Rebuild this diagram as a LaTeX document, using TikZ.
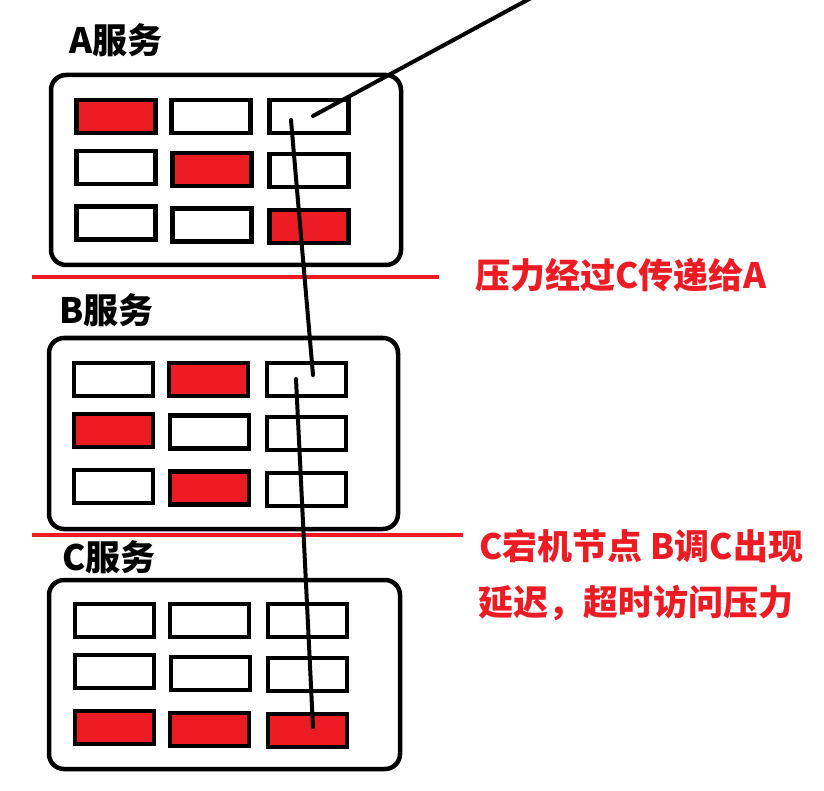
\documentclass[tikz,border=0pt]{standalone}
\usepackage{fontspec}
\newfontfamily\cjk{Noto Sans CJK SC}
\definecolor{pred}{HTML}{ED1C24}
\begin{document}
\begin{tikzpicture}[x=1pt,y=-1pt,
  svcbox/.style={draw=black,line width=4.5pt,rounded corners=15pt,minimum width=#1,inner sep=0pt},
  cellw/.style={draw=black,fill=white,line width=4.5pt,inner sep=0pt,minimum width=79pt,minimum height=33pt},
  cellr/.style={cellw,fill=pred},
  svclabel/.style={font=\cjk\bfseries\fontsize{35}{38}\selectfont,inner sep=0pt,anchor=west},
  note/.style={font=\cjk\bfseries\fontsize{35}{38}\selectfont,text=pred,inner sep=0pt,anchor=west},
  sepline/.style={draw=pred,line width=4pt},
  conn/.style={draw=black,line width=4pt,line cap=round}]
\fill[white] (0,0) rectangle (824,791);
\useasboundingbox (0,0) rectangle (824,791);
% service boxes
\node[svcbox=350pt,minimum height=190pt] (boxA) at (226,170) {};
\node[svcbox=349pt,minimum height=191pt] (boxB) at (223.5,433.5) {};
\node[svcbox=351pt,minimum height=189pt] (boxC) at (224.5,674.5) {};
% labels
\node[svclabel] (labA) at (69,40) {A服务};
\node[svclabel] (labB) at (59,310) {B服务};
\node[svclabel] (labC) at (62,557.5) {C服务};
% A cells
\node[cellr] (a11) at (116,116.5) {};
\node[cellw] (a12) at (211,116.5) {};
\node[cellw] (a13) at (309,116.5) {};
\node[cellw] (a21) at (116,167.5) {};
\node[cellr] (a22) at (212,169.5) {};
\node[cellw] (a23) at (309,170.5) {};
\node[cellw] (a31) at (116,223) {};
\node[cellw] (a32) at (212,225) {};
\node[cellr] (a33) at (309,226.5) {};
% B cells
\node[cellw] (b11) at (113.5,379.5) {};
\node[cellr] (b12) at (208.5,379.5) {};
\node[cellw] (b13) at (306.5,379.5) {};
\node[cellr] (b21) at (113.5,430.5) {};
\node[cellw] (b22) at (209.5,432) {};
\node[cellw] (b23) at (306.5,433.5) {};
\node[cellw] (b31) at (113.5,486.5) {};
\node[cellr] (b32) at (209.5,488) {};
\node[cellw] (b33) at (306.5,489.5) {};
% C cells
\node[cellw] (c11) at (114.5,620.5) {};
\node[cellw] (c12) at (209.5,620.5) {};
\node[cellw] (c13) at (307.5,620.5) {};
\node[cellw] (c21) at (114.5,671.5) {};
\node[cellw] (c22) at (210.5,673.5) {};
\node[cellw] (c23) at (307.5,674.5) {};
\node[cellr] (c31) at (114.5,727.5) {};
\node[cellr] (c32) at (209.5,729.5) {};
\node[cellr] (c33) at (307.5,730.5) {};
% separators
\coordinate (s1a) at (32,277);
\coordinate (s1b) at (439,277);
\coordinate (s2a) at (32,535);
\coordinate (s2b) at (463,535);
\draw[sepline] (s1a) -- (s1b);
\draw[sepline] (s2a) -- (s2b);
% notes
\node[note] (n1) at (475,275) {压力经过C传递给A};
\node[note] (n2) at (479,546) {C宕机节点 B调C出现};
\node[note] (n3) at (478,603.5) {延迟，超时访问压力};
% connector
\coordinate (p0) at (531,-2);
\coordinate (p1) at (313,116);
\coordinate (p2) at (291,120);
\coordinate (p3) at (313,375);
\coordinate (p4) at (296,379);
\coordinate (p5) at (313,727);
\draw[conn] (p0) -- (p1);
\draw[conn] (p2) -- (p3);
\draw[conn] (p4) -- (p5);
\end{tikzpicture}
\end{document}
